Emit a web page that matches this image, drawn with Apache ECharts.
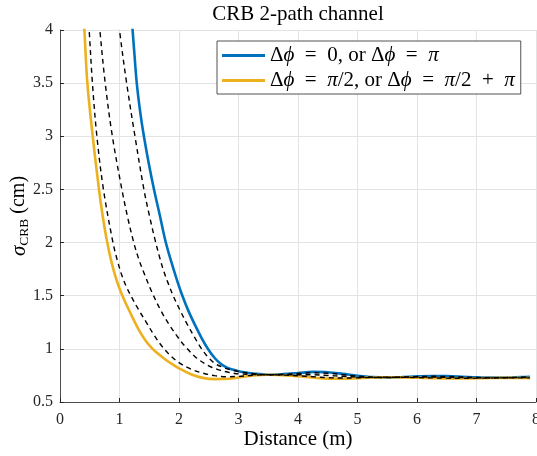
<!DOCTYPE html>
<html>
<head>
<meta charset="utf-8">
<script src="https://cdn.jsdelivr.net/npm/echarts@6/dist/echarts.min.js"></script>
<style>
html,body{margin:0;padding:0;background:#fff;}
#chart{width:537px;height:456px;}
</style>
</head>
<body>
<div id="chart"></div>
<script>
// ---- data ----
const xTicks = [0, 1, 2, 3, 4, 5, 6, 7, 8];
const yTicks = [0.5, 1, 1.5, 2, 2.5, 3, 3.5, 4];

// Δφ = 0 (blue)
const distPhi0 = [1.2, 1.22, 1.25, 1.29, 1.35, 1.41, 1.5, 1.58, 1.68, 1.77, 1.87, 1.97, 2.06, 2.16, 2.27, 2.38, 2.49, 2.6, 2.7, 2.8, 2.9, 3.0, 3.1, 3.25, 3.5, 3.75, 4.0, 4.25, 4.5, 4.75, 5.0, 5.25, 5.5, 5.75, 6.0, 6.25, 6.5, 6.75, 7.0, 7.25, 7.5, 7.75, 7.9];
const sigmaPhi0 = [4.16, 4.0, 3.78, 3.5, 3.22, 3.0, 2.72, 2.5, 2.25, 2.02, 1.82, 1.64, 1.495, 1.355, 1.223, 1.102, 0.997, 0.914, 0.86, 0.826, 0.805, 0.79, 0.78, 0.768, 0.757, 0.762, 0.772, 0.783, 0.78, 0.765, 0.747, 0.734, 0.73, 0.735, 0.741, 0.745, 0.743, 0.738, 0.732, 0.729, 0.73, 0.734, 0.736];

// Δφ = π/2 (yellow)
const distPhiHalf = [0.385, 0.41, 0.46, 0.55, 0.655, 0.72, 0.79, 0.86, 0.93, 1.0, 1.08, 1.2, 1.32, 1.44, 1.54, 1.65, 1.77, 1.9, 2.0, 2.2, 2.4, 2.6, 2.75, 3.0, 3.25, 3.5, 3.75, 4.0, 4.25, 4.5, 4.75, 5.0, 5.25, 5.5, 5.75, 6.0, 6.25, 6.5, 6.75, 7.0, 7.25, 7.5, 7.75, 7.9];
const sigmaPhiHalf = [4.25, 4.0, 3.5, 3.0, 2.5, 2.24, 2.012, 1.83, 1.685, 1.568, 1.46, 1.318, 1.184, 1.077, 1.01, 0.953, 0.9, 0.851, 0.817, 0.761, 0.727, 0.715, 0.716, 0.73, 0.75, 0.757, 0.752, 0.742, 0.73, 0.72, 0.719, 0.724, 0.73, 0.733, 0.732, 0.728, 0.724, 0.721, 0.721, 0.723, 0.726, 0.727, 0.726, 0.725];

// intermediate phases (black dashed)
const distMidA = [0.47, 0.49, 0.545, 0.62, 0.73, 0.89, 0.96, 1.04, 1.12, 1.2, 1.33, 1.45, 1.58, 1.72, 1.85, 2.0, 2.2, 2.4, 2.6, 2.8, 3.0, 3.25, 3.5, 3.75, 4.0, 4.25, 4.5, 4.75, 5.0, 5.25, 5.5, 5.75, 6.0, 6.25, 6.5, 6.75, 7.0, 7.25, 7.5, 7.75, 7.9];
const sigmaMidA = [4.15, 4.0, 3.5, 3.0, 2.5, 2.0, 1.84, 1.69, 1.58, 1.49, 1.36, 1.25, 1.13, 1.02, 0.94, 0.87, 0.81, 0.772, 0.748, 0.738, 0.741, 0.7525, 0.757, 0.7535, 0.7465, 0.738, 0.729, 0.726, 0.7275, 0.7306, 0.7326, 0.7325, 0.73, 0.7272, 0.7243, 0.7236, 0.7244, 0.7265, 0.7275, 0.7272, 0.7267];

const distMidB = [0.65, 0.67, 0.76, 0.88, 1.04, 1.14, 1.24, 1.32, 1.4, 1.54, 1.7, 1.85, 2.0, 2.1, 2.3, 2.5, 2.7, 2.85, 3.0, 3.25, 3.5, 3.75, 4.0, 4.25, 4.5, 4.75, 5.0, 5.25, 5.5, 5.75, 6.0, 6.25, 6.5, 6.75, 7.0, 7.25, 7.5, 7.75, 7.9];
const sigmaMidB = [4.15, 4.0, 3.5, 3.0, 2.5, 2.23, 2.0, 1.85, 1.73, 1.54, 1.355, 1.215, 1.095, 1.025, 0.912, 0.84, 0.797, 0.778, 0.765, 0.759, 0.757, 0.757, 0.757, 0.7565, 0.75, 0.742, 0.7355, 0.732, 0.7315, 0.7335, 0.7345, 0.7345, 0.732, 0.7295, 0.7275, 0.7275, 0.7285, 0.73, 0.7305];

const distMidC = [0.98, 1.0, 1.12, 1.26, 1.41, 1.5, 1.6, 1.68, 1.75, 1.83, 1.91, 2.02, 2.13, 2.25, 2.38, 2.5, 2.6, 2.75, 2.9, 3.0, 3.25, 3.5, 3.75, 4.0, 4.25, 4.5, 4.75, 5.0, 5.25, 5.5, 5.75, 6.0, 6.25, 6.5, 6.75, 7.0, 7.25, 7.5, 7.75, 7.9];
const sigmaMidC = [4.14, 4.0, 3.5, 3.0, 2.5, 2.26, 2.02, 1.85, 1.72, 1.6, 1.49, 1.36, 1.24, 1.12, 1.0, 0.915, 0.865, 0.823, 0.799, 0.787, 0.766, 0.757, 0.7605, 0.7675, 0.775, 0.771, 0.758, 0.7435, 0.7335, 0.7305, 0.7345, 0.739, 0.742, 0.74, 0.7355, 0.7305, 0.7285, 0.7295, 0.733, 0.7345];

const legendPhi0 = 'Δϕ = 0, or Δϕ = π';
const legendPhiHalf = 'Δϕ = π/2, or Δϕ = π/2 + π';

// ---- chart ----
const pairs = (xs, ys) => xs.map((x, i) => [x, ys[i]]);
const SERIF = '"Liberation Serif", "DejaVu Serif", serif';
const AX = '#262626';
const LEG_FS = 21;

function mathRich(s) {
  // TeX-like math spacing around = and +, italic ϕ and π
  const t = s.replace(/ ([=+]) /g, '\u2002$1\u2002');
  return t.replace(/ϕ/g, '\u0001i|ϕ\u0002').replace(/π/g, '\u0001i|π\u0002')
    .split(/(\u0001[^\u0002]*\u0002)/).filter(p => p.length)
    .map(p => p[0] === '\u0001' ? '{' + p.slice(1, -1) + '}' : '{r|' + p + '}').join('');
}

const chart = echarts.init(document.getElementById('chart'), null, {renderer: 'canvas'});
const dashed = (name, data) => ({
  name, type: 'line', data, showSymbol: false, symbol: 'none', smooth: 0.35,
  lineStyle: {color: '#000', width: 1.4, type: [5, 4]}, z: 4, silent: true
});

chart.setOption({
  animation: false,
  backgroundColor: '#fff',
  title: {
    text: 'CRB 2-path channel',
    left: 298, top: 4, textAlign: 'center', padding: 0,
    textStyle: {fontFamily: SERIF, fontSize: 21, fontWeight: 'normal', color: '#000'}
  },
  grid: {left: 60, right: 1, top: 30, bottom: 54, containLabel: false, outerBoundsMode: 'none'},
  legend: {
    orient: 'vertical', left: 217, top: 41,
    data: [legendPhi0, legendPhiHalf],
    icon: 'rect',
    itemWidth: 43, itemHeight: 2.8, itemGap: 4,
    padding: [4, 6, 3, 5],
    borderColor: AX, borderWidth: 0.8, backgroundColor: '#fff',
    formatter: (n) => mathRich(n),
    textStyle: {
      fontFamily: SERIF, fontSize: LEG_FS, color: '#000',
      rich: {
        r: {fontFamily: SERIF, fontSize: LEG_FS, color: '#000'},
        i: {fontFamily: SERIF, fontSize: LEG_FS, fontStyle: 'italic', color: '#000'}
      }
    }
  },
  xAxis: {
    type: 'value', min: xTicks[0], max: xTicks[xTicks.length - 1], interval: 1,
    name: 'Distance (m)', nameLocation: 'middle', nameGap: 27, nameMoveOverlap: false,
    nameTextStyle: {fontFamily: SERIF, fontSize: 21, color: '#000'},
    axisLine: {show: true, onZero: false, lineStyle: {color: AX, width: 0.8}},
    axisTick: {show: true, inside: true, length: 4, lineStyle: {color: AX}},
    axisLabel: {fontFamily: SERIF, fontSize: 16, color: AX, margin: 10},
    splitLine: {show: true, lineStyle: {color: '#e3e3e3', width: 1}}
  },
  yAxis: {
    type: 'value', min: yTicks[0], max: yTicks[yTicks.length - 1], interval: 0.5,
    name: '{s|σ}{sub|CRB}{n| (cm)}', nameLocation: 'middle', nameGap: 29, nameRotate: 90, nameMoveOverlap: false,
    nameTextStyle: {
      fontFamily: SERIF, fontSize: 20, color: '#000',
      rich: {
        s: {fontFamily: SERIF, fontSize: 21, fontStyle: 'italic', color: '#000'},
        sub: {fontFamily: SERIF, fontSize: 13.5, color: '#000', verticalAlign: 'top', padding: [10, 0, 0, 0]},
        n: {fontFamily: SERIF, fontSize: 20, color: '#000'}
      }
    },
    axisLine: {show: true, onZero: false, lineStyle: {color: AX, width: 0.8}},
    axisTick: {show: true, inside: true, length: 4, lineStyle: {color: AX}},
    axisLabel: {fontFamily: SERIF, fontSize: 16, color: AX, margin: 7},
    splitLine: {show: true, lineStyle: {color: '#e3e3e3', width: 1}}
  },
  series: [
    {
      name: legendPhi0, type: 'line', data: pairs(distPhi0, sigmaPhi0), showSymbol: false, symbol: 'none',
      smooth: 0.35, lineStyle: {color: '#0072BD', width: 2.6}, itemStyle: {color: '#0072BD'}, z: 3
    },
    {
      name: legendPhiHalf, type: 'line', data: pairs(distPhiHalf, sigmaPhiHalf), showSymbol: false, symbol: 'none',
      smooth: 0.35, lineStyle: {color: '#EDB120', width: 2.6}, itemStyle: {color: '#EDB120'}, z: 3
    },
    dashed('midA', pairs(distMidA, sigmaMidA)),
    dashed('midB', pairs(distMidB, sigmaMidB)),
    dashed('midC', pairs(distMidC, sigmaMidC))
  ]
});
</script>
</body>
</html>
